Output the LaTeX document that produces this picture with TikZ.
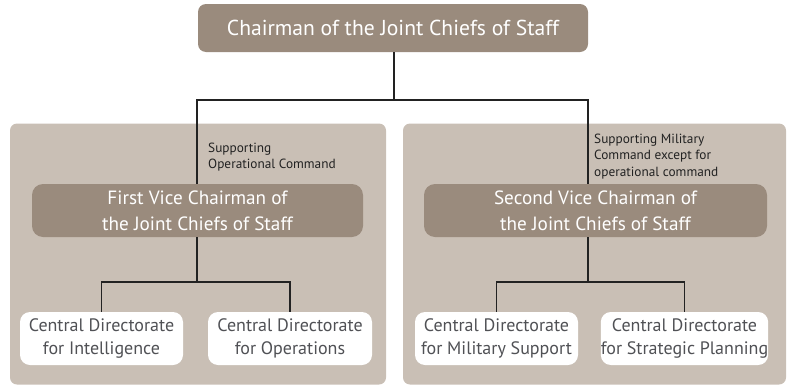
\documentclass[tikz,border=0pt]{standalone}
\usepackage{fontspec}
\setmainfont{PT Sans}
\definecolor{darkbox}{HTML}{9A8B7D}
\definecolor{panel}{HTML}{C9BFB5}
\definecolor{boxtext}{HTML}{505155}
\definecolor{linec}{HTML}{222222}
\tikzset{
  chairbox/.style={fill=darkbox, rounded corners=8pt, text=white, font=\fontsize{21.6}{24}\selectfont, inner sep=0pt},
  vicebox/.style={fill=darkbox, rounded corners=11pt, text=white, font=\fontsize{19.2}{26}\selectfont, align=center, inner sep=0pt},
  dirbox/.style={fill=white, rounded corners=10pt, text=boxtext, font=\fontsize{18}{23}\selectfont, align=center, inner sep=0pt},
  panelbox/.style={fill=panel, rounded corners=7pt, inner sep=0pt},
  note/.style={text=linec, font=\fontsize{13.3}{16.5}\selectfont, align=left, anchor=north west, inner sep=0pt},
  conn/.style={draw=linec, line width=1.1pt}
}
\begin{document}
\begin{tikzpicture}[x=1pt,y=-1pt]
\useasboundingbox (0,0) rectangle (788,386);
% panels
\node[panelbox, minimum width=376pt, minimum height=261pt] (p1) at (198,254) {};
\node[panelbox, minimum width=383pt, minimum height=261pt] (p2) at (594.5,254) {};
% top
\node[chairbox, minimum width=390pt, minimum height=48pt] (chair) at (393,28) {Chairman of the Joint Chiefs of Staff};
% vice
\node[vicebox, minimum width=331pt, minimum height=53pt] (v1) at (197.5,210.5) {First Vice Chairman of\\the Joint Chiefs of Staff};
\node[vicebox, minimum width=343pt, minimum height=53pt] (v2) at (595.5,210.5) {Second Vice Chairman of\\the Joint Chiefs of Staff};
% directorates
\node[dirbox, minimum width=163pt, minimum height=53pt] (d1) at (101.5,338.5) {Central Directorate\\for Intelligence};
\node[dirbox, minimum width=164pt, minimum height=53pt] (d2) at (290,338.5) {Central Directorate\\for Operations};
\node[dirbox, minimum width=163pt, minimum height=53pt] (d3) at (496.5,338.5) {Central Directorate\\for Military Support};
\node[dirbox, minimum width=161pt, minimum height=53pt] (d4) at (684.5,338.5) {Central Directorate\\for Strategic Planning};
% notes
\node[note] (n1) at (208,142.5) {Supporting\\Operational Command};
\node[note] (n2) at (594,133.5) {Supporting Military\\Command except for\\operational command};
% connectors
\coordinate (j0) at (394,100);
\coordinate (jl) at (197,100);
\coordinate (jr) at (588,100);
\coordinate (jl2) at (197,282);
\coordinate (jr2) at (588,282);
\draw[conn] (chair.south -| j0) -- (j0);
\draw[conn] (jl |- v1.north) -- (jl) -- (jr) -- (jr |- v2.north);
\draw[conn] (jl |- v1.south) -- (jl2);
\draw[conn] (d1.north) -- (d1.north |- jl2) -- (d2.north |- jl2) -- (d2.north);
\draw[conn] (jr |- v2.south) -- (jr2);
\draw[conn] (d3.north) -- (d3.north |- jr2) -- (d4.north |- jr2) -- (d4.north);
\end{tikzpicture}
\end{document}
